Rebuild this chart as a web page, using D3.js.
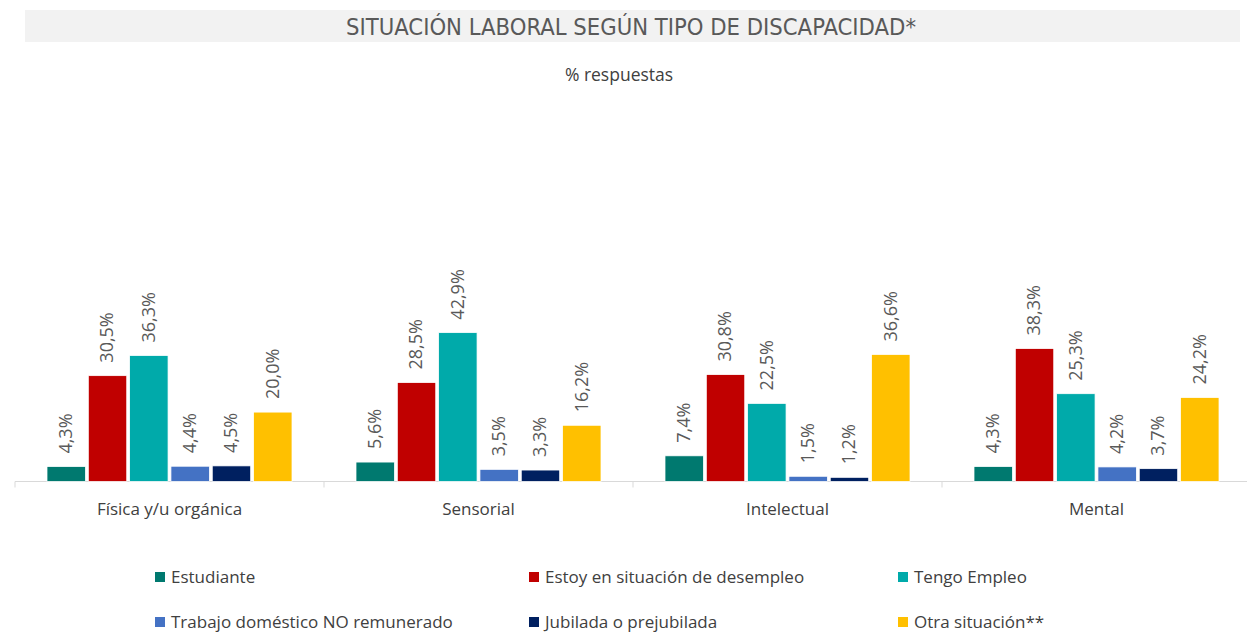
<!DOCTYPE html>
<html>
<head>
<meta charset="utf-8">
<script src="https://cdn.jsdelivr.net/npm/d3@7"></script>
<style>
  body { margin: 0; background: #fff; }
  svg { display: block; }
</style>
</head>
<body>
<div id="chart"></div>
<script>
var categories = ["Física y/u orgánica", "Sensorial", "Intelectual", "Mental"];
var seriesNames = ["Estudiante", "Estoy en situación de desempleo", "Tengo Empleo",
    "Trabajo doméstico NO remunerado", "Jubilada o prejubilada", "Otra situación**"];
var seriesColors = ["#00796f", "#c00000", "#00aaaa", "#4472c4", "#002060", "#ffc000"];

// one array per serie, in category order
var estudiante = [4.3, 5.6, 7.4, 4.3];
var desempleo = [30.5, 28.5, 30.8, 38.3];
var empleo = [36.3, 42.9, 22.5, 25.3];
var domestico = [4.4, 3.5, 1.5, 4.2];
var jubilada = [4.5, 3.3, 1.2, 3.7];
var otra = [20.0, 16.2, 36.6, 24.2];
var seriesValues = [estudiante, desempleo, empleo, domestico, jubilada, otra];

var width = 1247, height = 633;
var baseY = 481.5;

var svg = d3.select("#chart")
    .append("svg")
    .attr("width", width)
    .attr("height", height);

// title band
svg.append("rect")
    .attr("x", 25).attr("y", 10)
    .attr("width", 1215).attr("height", 32)
    .attr("fill", "#f2f2f2");

svg.append("text")
    .attr("x", 631).attr("y", 35)
    .attr("text-anchor", "middle")
    .attr("font-family", "'Liberation Sans Narrow', 'DejaVu Sans Condensed', sans-serif")
    .attr("font-size", 23)
    .attr("font-weight", 300)
    .attr("textLength", 570)
    .attr("lengthAdjust", "spacingAndGlyphs")
    .attr("fill", "#595959")
    .text("SITUACIÓN LABORAL SEGÚN TIPO DE DISCAPACIDAD*");

svg.append("text")
    .attr("x", 619).attr("y", 81)
    .attr("text-anchor", "middle")
    .attr("font-family", "'Open Sans', sans-serif")
    .attr("font-size", 17.5)
    .attr("fill", "#404040")
    .text("% respuestas");

var x0 = d3.scaleBand()
    .domain(categories)
    .range([15, 1251]);

var x1 = d3.scaleBand()
    .domain(d3.range(seriesNames.length))
    .range([32, x0.bandwidth() - 32])
    .paddingInner(0.07);

var y = d3.scaleLinear()
    .domain([0, 50])
    .range([baseY, baseY - 173.5]);

// axis
var axis = d3.axisBottom(x0).tickSize(0).tickPadding(21);
var gAxis = svg.append("g")
    .attr("transform", "translate(0," + baseY + ")")
    .call(axis);
gAxis.select(".domain").attr("stroke", "#d9d9d9").attr("d", "M15,0H1247");
gAxis.selectAll("text")
    .attr("font-family", "'Open Sans', sans-serif")
    .attr("font-size", 17)
    .attr("fill", "#404040");
gAxis.selectAll(".sep")
    .data(categories.concat(["end"]))
    .enter()
    .append("line")
    .attr("class", "sep")
    .attr("x1", function(d, i) { return 15 + i * x0.step(); })
    .attr("x2", function(d, i) { return 15 + i * x0.step(); })
    .attr("y1", 0).attr("y2", 6)
    .attr("stroke", "#d9d9d9");

// bars
var rows = [];
categories.forEach(function(c, ci) {
    seriesValues.forEach(function(vals, si) {
        rows.push({ cat: c, s: si, v: vals[ci] });
    });
});

var bar = svg.selectAll(".bar")
    .data(rows)
    .enter()
    .append("g")
    .attr("class", "bar")
    .attr("transform", function(d) {
        return "translate(" + (x0(d.cat) + x1(d.s)) + ",0)";
    });

bar.append("rect")
    .attr("x", 0)
    .attr("y", function(d) { return y(d.v); })
    .attr("width", x1.bandwidth())
    .attr("height", function(d) { return baseY - y(d.v); })
    .attr("fill", function(d) { return seriesColors[d.s]; })
    .attr("stroke", "#fff")
    .attr("stroke-width", 0.75);

bar.append("text")
    .attr("transform", function(d) {
        return "translate(" + (x1.bandwidth() / 2 + 1) + "," + (y(d.v) - 13) + ") rotate(-90)";
    })
    .attr("dominant-baseline", "middle")
    .attr("font-family", "'Open Sans', sans-serif")
    .attr("font-size", 18)
    .attr("fill", "#595959")
    .text(function(d) { return d3.format(".1f")(d.v).replace(".", ",") + "%"; });

// legend
var legendX = [155, 529, 898];
var legendY = [577, 622];
var leg = svg.selectAll(".legend")
    .data(seriesNames)
    .enter()
    .append("g")
    .attr("class", "legend")
    .attr("transform", function(d, i) {
        return "translate(" + legendX[i % 3] + "," + legendY[Math.floor(i / 3)] + ")";
    });

leg.append("rect")
    .attr("x", 0).attr("y", -5)
    .attr("width", 10).attr("height", 10)
    .attr("fill", function(d, i) { return seriesColors[i]; });

leg.append("text")
    .attr("x", 16).attr("y", 1)
    .attr("dominant-baseline", "middle")
    .attr("font-family", "'Open Sans', sans-serif")
    .attr("font-size", 17)
    .attr("fill", "#404040")
    .text(function(d) { return d; });
</script>
</body>
</html>
